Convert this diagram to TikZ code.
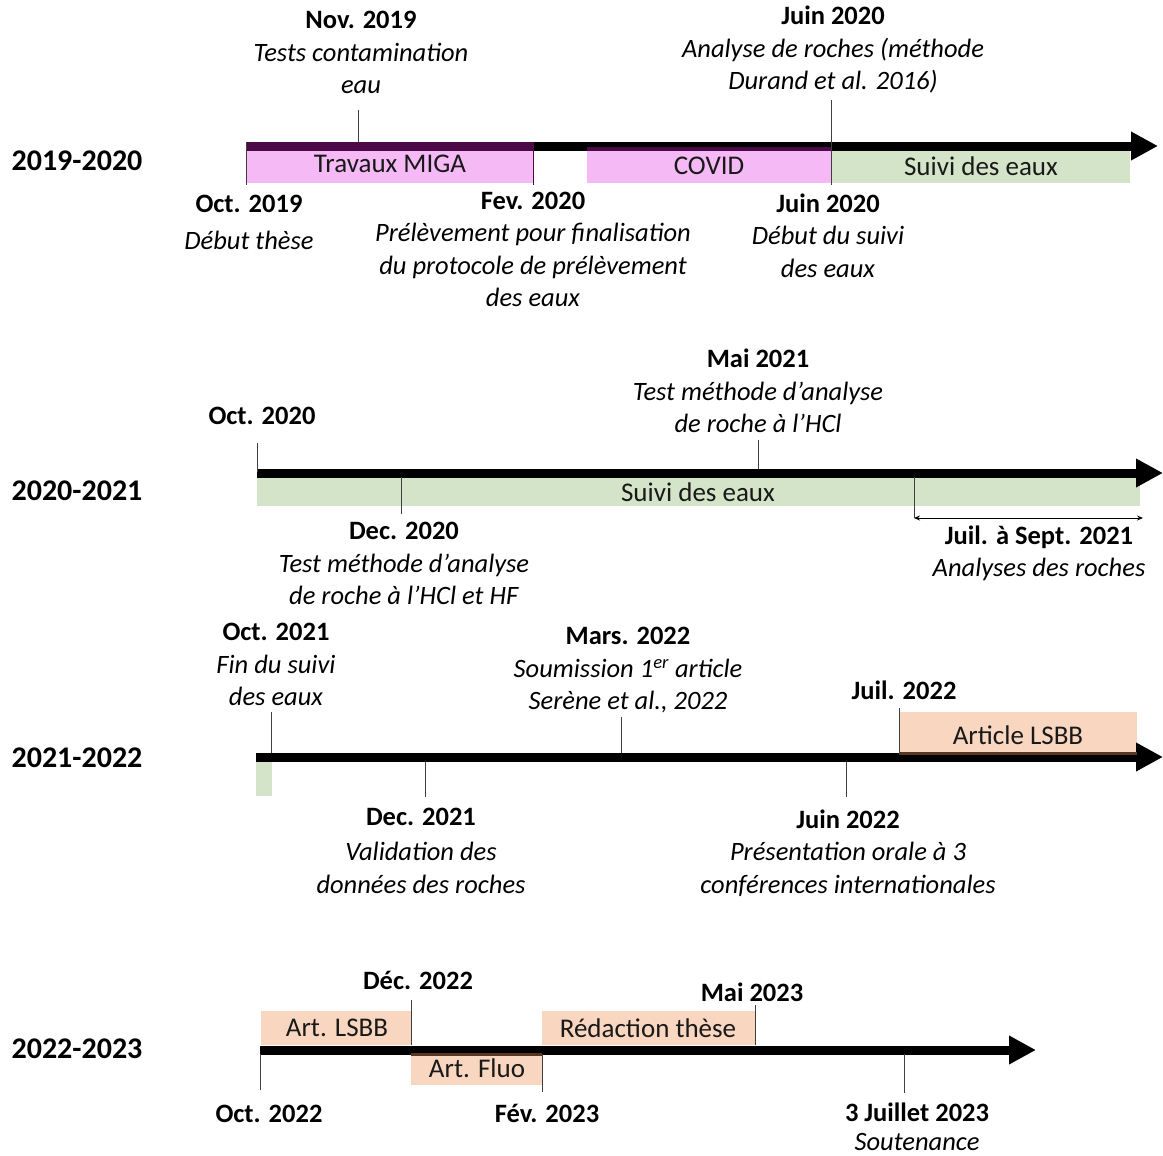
\documentclass[tikz,border=0pt]{standalone}
\usepackage{fontspec}
\setmainfont{Carlito}
\usetikzlibrary{arrows.meta}
\definecolor{pinkbox}{HTML}{F5B9F5}
\definecolor{pinkdark}{HTML}{4B0A47}
\definecolor{greenbox}{HTML}{D4E4C8}
\definecolor{peachbox}{HTML}{F8D6C0}
\definecolor{peachdark}{HTML}{5A3522}
\definecolor{tickcol}{HTML}{404040}
\tikzset{
  datelbl/.style={font=\fontsize{26.5}{32.5}\selectfont, align=center, inner sep=0pt},
  yearlbl/.style={font=\fontsize{30}{34}\selectfont\bfseries, inner sep=0pt},
  boxlbl/.style={font=\fontsize{27}{30}\selectfont, inner sep=0pt, text=black!90},
  tickline/.style={draw=tickcol, line width=0.9pt},
  timeline/.style={line width=9pt, -{Triangle[length=27pt,width=27pt]}}
}
\begin{document}
\begin{tikzpicture}[x=1pt,y=-1pt]
\useasboundingbox (0,0) rectangle (1163,1156);

% ---------------- Row 1: 2019-2020 ----------------
\node[yearlbl] (y1) at (77,161) {2019-2020};
\fill[pinkbox] (246,142) rectangle (533,183);
\fill[pinkbox] (587,147) rectangle (831,183);
\fill[greenbox] (831,150) rectangle (1130,183);
\coordinate (a1s) at (246,146);
\coordinate (a1e) at (1158,146);
\draw[timeline] (a1s) -- (a1e);
\fill[pinkdark] (246,141.5) rectangle (533,150.5);
\fill[pinkdark] (587,147) rectangle (831,150.5);
\node[boxlbl] (b11) at (390,164) {Travaux MIGA};
\node[boxlbl] (b12) at (709,166) {COVID};
\node[boxlbl] (b13) at (981,166) {Suivi des eaux};
\draw[tickline] (358,110) -- (358,142);
\draw[tickline] (831,100) -- (831,185);
\draw[tickline] (246,142) -- (246,185);
\draw[draw=pinkdark, line width=0.9pt] (533,142) -- (533,185);

\node[datelbl] (n1) at (361,52.5) {\textbf{Nov. 2019}\\\textit{Tests contamination}\\\textit{eau}};
\node[datelbl] (n2) at (833,50) {\textbf{Juin 2020}\\\textit{Analyse de roches (méthode}\\\textit{Durand et al. 2016)}};
\node[datelbl] (n3) at (249,222.5) {\textbf{Oct. 2019}\\[4pt]\textit{Début thèse}};
\node[datelbl] (n4) at (533,249.5) {\textbf{Fev. 2020}\\\textit{Prélèvement pour finalisation}\\\textit{du protocole de prélèvement}\\\textit{des eaux}};
\node[datelbl] (n5) at (828,235.5) {\textbf{Juin 2020}\\\textit{Début du suivi}\\\textit{des eaux}};

% ---------------- Row 2: 2020-2021 ----------------
\node[yearlbl] (y2) at (77,491) {2020-2021};
\fill[greenbox] (257,477) rectangle (1140,506);
\coordinate (a2s) at (257,473);
\coordinate (a2e) at (1163,473);
\draw[timeline] (a2s) -- (a2e);
\node[boxlbl] (b21) at (698,492) {Suivi des eaux};
\draw[tickline] (257,443) -- (257,472);
\draw[tickline] (758,440) -- (758,469);
\draw[tickline] (401,477) -- (401,514);
\draw[tickline] (914,477) -- (914,518);
\coordinate (d1) at (914,518);
\coordinate (d2) at (1143,518);
\draw[line width=0.9pt, {Stealth[length=6pt,width=5pt]}-{Stealth[length=6pt,width=5pt]}] (d1) -- (d2);

\node[datelbl] (n6) at (262,416) {\textbf{Oct. 2020}};
\node[datelbl] (n7) at (758,391) {\textbf{Mai 2021}\\\textit{Test méthode d’analyse}\\\textit{de roche à l’HCl}};
\node[datelbl] (n8) at (404,563.5) {\textbf{Dec. 2020}\\\textit{Test méthode d’analyse}\\\textit{de roche à l’HCl et HF}};
\node[datelbl] (n9) at (1039,553.5) {\textbf{Juil. à Sept. 2021}\\\textit{Analyses des roches}};

% ---------------- Row 3: 2021-2022 ----------------
\node[yearlbl] (y3) at (77,758) {2021-2022};
\fill[greenbox] (256,762) rectangle (272,796);
\fill[peachbox] (899,712) rectangle (1137,755);
\coordinate (a3s) at (256,757);
\coordinate (a3e) at (1163,757);
\draw[timeline] (a3s) -- (a3e);
\fill[peachdark] (899,752) rectangle (1137,755);
\node[boxlbl] (b31) at (1018,735) {Article LSBB};
\draw[tickline] (271,712) -- (271,753);
\draw[tickline] (621,717) -- (621,753);
\draw[tickline] (425,762) -- (425,797);
\draw[tickline] (846,762) -- (846,797);
\draw[tickline] (899,708) -- (899,755);

\node[datelbl] (n10) at (276,664.5) {\textbf{Oct. 2021}\\\textit{Fin du suivi}\\\textit{des eaux}};
\node[datelbl] (n11) at (628,670.5) {\textbf{Mars. 2022}\\\textit{Soumission 1\textsuperscript{er} article}\\\textit{Serène et al., 2022}};
\node[datelbl] (n12) at (904,690) {\textbf{Juil. 2022}};
\node[datelbl] (n13) at (421,850.5) {\textbf{Dec. 2021}\\[3pt]\textit{Validation des}\\\textit{données des roches}};
\node[datelbl] (n14) at (848,853) {\textbf{Juin 2022}\\\textit{Présentation orale à 3}\\\textit{conférences internationales}};

% ---------------- Row 4: 2022-2023 ----------------
\node[yearlbl] (y4) at (77,1049) {2022-2023};
\fill[peachbox] (261,1011) rectangle (411,1045);
\fill[peachbox] (411,1053) rectangle (542,1085);
\fill[peachbox] (542,1011) rectangle (755,1045);
\coordinate (a4s) at (260,1050);
\coordinate (a4e) at (1036,1050);
\draw[timeline] (a4s) -- (a4e);
\fill[peachdark] (411,1053) rectangle (542,1055.5);
\node[boxlbl] (b41) at (337,1028) {Art. LSBB};
\node[boxlbl] (b42) at (477,1068) {Art. Fluo};
\node[boxlbl] (b43) at (648,1028) {Rédaction thèse};
\draw[tickline] (411,1000) -- (411,1045);
\draw[tickline] (755,1005) -- (755,1045);
\draw[tickline] (260,1054) -- (260,1090);
\draw[tickline] (542,1054) -- (542,1092);
\draw[tickline] (904,1054) -- (904,1093);

\node[datelbl] (n15) at (418,980) {\textbf{Déc. 2022}};
\node[datelbl] (n16) at (752,992) {\textbf{Mai 2023}};
\node[datelbl] (n17) at (269,1114) {\textbf{Oct. 2022}};
\node[datelbl] (n18) at (547,1113) {\textbf{Fév. 2023}};
\node[datelbl] (n19) at (917,1127) {\textbf{3 Juillet 2023}\\[-3pt]\textit{Soutenance}};
\end{tikzpicture}
\end{document}
